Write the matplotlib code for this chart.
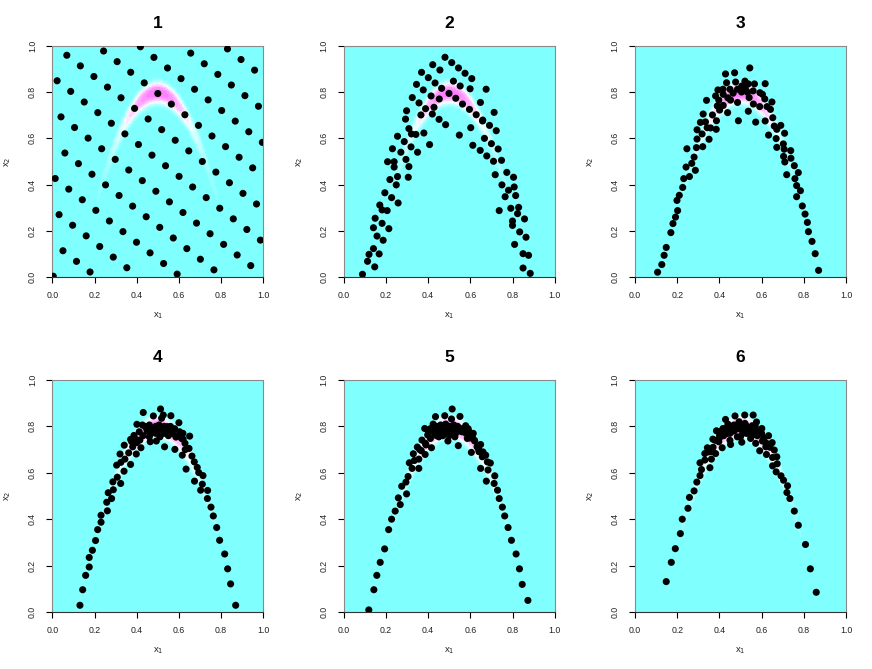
import numpy as np
import matplotlib
matplotlib.use("Agg")
import matplotlib.pyplot as plt
from matplotlib.colors import ListedColormap, BoundaryNorm

plt.rcParams['font.family'] = ['Liberation Sans', 'DejaVu Sans']

# ---------------- data ----------------
titles = ["1", "2", "3", "4", "5", "6"]
tick_vals = [0.0, 0.2, 0.4, 0.6, 0.8, 1.0]
tick_labels = ["0.0", "0.2", "0.4", "0.6", "0.8", "1.0"]

# panel 1: lattice point grid indices (out of 109 cells)
lattice_n = 109
lat_x = [0,7,14,21,28,35,42,49,56,63,70,77,84,91,98,105,
         3,10,17,24,31,38,45,52,59,66,73,80,87,94,101,108,
         6,13,20,27,34,41,48,55,62,69,76,83,90,97,104,
         2,9,16,23,30,37,44,51,58,65,72,79,86,93,100,107,
         5,12,19,26,33,40,47,54,61,68,75,82,89,96,103,
         1,8,15,22,29,36,43,50,57,64,71,78,85,92,99,106,
         4,11,18,25,32,39,46,53,60,67,74,81,88,95,102]
lat_y = [0,104,99,94,89,84,79,74,69,64,59,54,49,44,39,34,
         29,24,19,14,9,4,108,103,98,93,88,83,78,73,68,63,
         58,53,48,43,38,33,28,23,18,13,8,3,107,102,97,
         92,87,82,77,72,67,62,57,52,47,42,37,32,27,22,17,
         12,7,2,106,101,96,91,86,81,76,71,66,61,56,51,
         46,41,36,31,26,21,16,11,6,1,105,100,95,90,85,80,
         75,70,65,60,55,50,45,40,35,30,25,20,15,10,5]

pts2 = [(0.480,0.950),(0.512,0.927),(0.544,0.904),(0.575,0.881),(0.607,0.858),(0.422,0.918),(0.456,0.895),
        (0.369,0.885),(0.401,0.862),(0.433,0.839),(0.345,0.833),(0.377,0.809),(0.520,0.847),(0.552,0.826),
        (0.599,0.814),(0.675,0.812),(0.464,0.816),(0.499,0.794),(0.531,0.773),(0.563,0.748),(0.596,0.725),
        (0.628,0.702),(0.659,0.679),(0.691,0.656),(0.723,0.633),(0.325,0.776),(0.357,0.753),(0.388,0.728),
        (0.420,0.705),(0.452,0.682),(0.483,0.659),(0.414,0.783),(0.453,0.770),(0.428,0.734),(0.648,0.755),
        (0.713,0.712),(0.298,0.719),(0.293,0.683),(0.366,0.701),(0.309,0.642),(0.321,0.619),(0.342,0.617),
        (0.380,0.623),(0.255,0.609),(0.287,0.586),(0.319,0.563),(0.350,0.540),(0.407,0.573),(0.231,0.555),
        (0.271,0.540),(0.295,0.509),(0.309,0.478),(0.208,0.499),(0.239,0.499),(0.239,0.476),(0.306,0.432),
        (0.255,0.435),(0.219,0.422),(0.249,0.399),(0.195,0.365),(0.227,0.344),(0.258,0.321),(0.171,0.312),
        (0.182,0.291),(0.206,0.288),(0.149,0.255),(0.141,0.214),(0.182,0.233),(0.214,0.210),(0.158,0.178),
        (0.187,0.160),(0.141,0.124),(0.120,0.099),(0.168,0.101),(0.113,0.069),(0.147,0.045),(0.089,0.013),
        (0.602,0.646),(0.548,0.614),(0.612,0.570),(0.647,0.548),(0.678,0.524),(0.710,0.501),(0.667,0.600),
        (0.700,0.577),(0.732,0.554),(0.748,0.505),(0.658,0.675),(0.718,0.443),(0.773,0.453),(0.805,0.432),
        (0.750,0.399),(0.781,0.376),(0.808,0.390),(0.765,0.348),(0.815,0.353),(0.792,0.298),(0.829,0.302),
        (0.824,0.275),(0.737,0.288),(0.800,0.243),(0.800,0.224),(0.857,0.252),(0.834,0.196),(0.864,0.173),
        (0.810,0.142),(0.850,0.102),(0.876,0.095),(0.850,0.040),(0.884,0.017)]

pts3 = [(0.107,0.022),(0.127,0.055),(0.138,0.095),(0.148,0.129),(0.170,0.193),(0.180,0.232),(0.192,0.260),
        (0.202,0.288),(0.199,0.332),(0.210,0.354),(0.226,0.388),(0.231,0.426),(0.258,0.435),(0.242,0.476),
        (0.269,0.492),(0.280,0.519),(0.286,0.462),(0.246,0.555),(0.291,0.560),(0.321,0.564),(0.294,0.597),
        (0.318,0.619),(0.294,0.637),(0.310,0.669),(0.323,0.705),(0.334,0.671),(0.342,0.646),(0.358,0.645),
        (0.351,0.596),(0.385,0.639),(0.386,0.676),(0.367,0.701),(0.339,0.764),(0.382,0.783),(0.393,0.809),
        (0.417,0.812),(0.390,0.740),(0.401,0.722),(0.418,0.742),(0.397,0.765),(0.429,0.878),(0.472,0.883),
        (0.544,0.904),(0.434,0.840),(0.477,0.843),(0.506,0.826),(0.521,0.847),(0.537,0.835),(0.566,0.835),
        (0.617,0.836),(0.450,0.812),(0.486,0.812),(0.523,0.816),(0.533,0.799),(0.592,0.797),(0.604,0.790),
        (0.418,0.790),(0.453,0.765),(0.486,0.755),(0.439,0.711),(0.490,0.676),(0.541,0.776),(0.561,0.748),
        (0.537,0.717),(0.572,0.670),(0.591,0.737),(0.615,0.770),(0.649,0.757),(0.626,0.737),(0.642,0.725),
        (0.617,0.675),(0.653,0.689),(0.660,0.653),(0.691,0.656),(0.672,0.639),(0.633,0.614),(0.669,0.599),
        (0.709,0.622),(0.672,0.561),(0.703,0.576),(0.707,0.553),(0.738,0.547),(0.704,0.522),(0.739,0.514),
        (0.710,0.498),(0.755,0.482),(0.774,0.452),(0.719,0.443),(0.758,0.426),(0.766,0.396),(0.784,0.374),
        (0.766,0.348),(0.793,0.308),(0.806,0.273),(0.817,0.237),(0.822,0.197),(0.839,0.155),(0.854,0.102),
        (0.870,0.030),(0.465,0.795),(0.505,0.800),(0.560,0.805),(0.440,0.775)]

pts4 = [(0.131,0.029),(0.144,0.096),(0.158,0.158),(0.175,0.194),(0.175,0.235),(0.190,0.266),(0.205,0.308),
        (0.215,0.355),(0.231,0.387),(0.231,0.417),(0.261,0.436),(0.258,0.473),(0.281,0.489),(0.265,0.514),
        (0.289,0.527),(0.287,0.561),(0.308,0.581),(0.324,0.554),(0.305,0.633),(0.325,0.645),(0.340,0.607),
        (0.344,0.659),(0.321,0.681),(0.341,0.719),(0.362,0.686),(0.371,0.636),(0.381,0.712),(0.398,0.681),
        (0.376,0.734),(0.387,0.761),(0.371,0.744),(0.401,0.809),(0.412,0.777),(0.415,0.741),(0.420,0.708),
        (0.431,0.860),(0.427,0.806),(0.447,0.791),(0.460,0.806),(0.479,0.845),(0.468,0.770),(0.464,0.734),
        (0.490,0.770),(0.493,0.737),(0.513,0.875),(0.518,0.835),(0.526,0.849),(0.506,0.806),(0.529,0.770),
        (0.532,0.712),(0.545,0.799),(0.562,0.846),(0.566,0.784),(0.586,0.754),(0.600,0.816),(0.603,0.777),
        (0.581,0.701),(0.619,0.770),(0.613,0.748),(0.629,0.727),(0.651,0.758),(0.616,0.676),(0.648,0.705),
        (0.662,0.672),(0.673,0.647),(0.687,0.623),(0.634,0.616),(0.694,0.601),(0.714,0.588),(0.674,0.564),
        (0.711,0.551),(0.703,0.525),(0.736,0.524),(0.735,0.489),(0.752,0.452),(0.763,0.414),(0.779,0.364),
        (0.793,0.309),(0.817,0.250),(0.831,0.186),(0.845,0.121),(0.869,0.029),
        (0.440,0.800),(0.450,0.780),(0.470,0.790),(0.490,0.800),(0.500,0.780),(0.520,0.790),(0.540,0.780),
        (0.550,0.760),(0.570,0.770),(0.580,0.790),(0.430,0.760),(0.460,0.755),(0.510,0.755),(0.530,0.800),
        (0.560,0.800),(0.400,0.730),(0.390,0.750),(0.620,0.745),(0.600,0.760),(0.630,0.700)]

pts5 = [(0.119,0.009),(0.143,0.096),(0.157,0.158),(0.173,0.214),(0.194,0.272),(0.213,0.355),(0.227,0.400),
        (0.244,0.435),(0.268,0.463),(0.259,0.492),(0.298,0.509),(0.275,0.542),(0.295,0.560),(0.305,0.584),
        (0.324,0.619),(0.356,0.619),(0.311,0.643),(0.335,0.653),(0.356,0.659),(0.330,0.682),(0.349,0.711),
        (0.368,0.695),(0.386,0.679),(0.371,0.741),(0.387,0.727),(0.384,0.791),(0.398,0.763),(0.416,0.708),
        (0.411,0.748),(0.424,0.810),(0.435,0.842),(0.438,0.784),(0.451,0.755),(0.459,0.806),(0.475,0.777),
        (0.479,0.846),(0.483,0.810),(0.494,0.737),(0.503,0.791),(0.514,0.875),(0.511,0.832),(0.522,0.806),
        (0.527,0.755),(0.543,0.717),(0.551,0.843),(0.546,0.791),(0.562,0.777),(0.578,0.803),(0.586,0.748),
        (0.594,0.777),(0.605,0.688),(0.614,0.770),(0.621,0.737),(0.632,0.712),(0.649,0.722),(0.641,0.691),
        (0.657,0.669),(0.673,0.676),(0.649,0.619),(0.681,0.647),(0.695,0.642),(0.684,0.612),(0.676,0.564),
        (0.713,0.554),(0.716,0.587),(0.729,0.525),(0.737,0.489),(0.752,0.452),(0.763,0.414),(0.779,0.364),
        (0.795,0.309),(0.817,0.250),(0.833,0.186),(0.846,0.119),(0.873,0.050),
        (0.400,0.780),(0.410,0.790),(0.430,0.770),(0.440,0.800),(0.450,0.780),(0.460,0.790),(0.470,0.800),
        (0.480,0.790),(0.490,0.780),(0.500,0.800),(0.510,0.790),(0.520,0.780),(0.530,0.790),(0.540,0.800),
        (0.550,0.780),(0.560,0.790),(0.570,0.780),(0.580,0.770),(0.590,0.790),(0.600,0.750),(0.610,0.760),
        (0.620,0.740),(0.440,0.760),(0.470,0.760),(0.500,0.760),(0.530,0.770),(0.360,0.700),(0.390,0.720),
        (0.640,0.700),(0.660,0.690)]

pts6 = [(0.148,0.131),(0.172,0.214),(0.191,0.273),(0.215,0.338),(0.224,0.400),(0.251,0.447),(0.258,0.494),
        (0.280,0.522),(0.293,0.560),(0.308,0.588),(0.315,0.614),(0.308,0.643),(0.331,0.655),(0.355,0.622),
        (0.331,0.683),(0.362,0.659),(0.343,0.708),(0.366,0.691),(0.382,0.683),(0.369,0.745),(0.386,0.781),
        (0.397,0.734),(0.413,0.708),(0.401,0.763),(0.417,0.791),(0.429,0.830),(0.437,0.770),(0.453,0.722),
        (0.448,0.799),(0.461,0.781),(0.474,0.845),(0.469,0.806),(0.485,0.755),(0.493,0.820),(0.506,0.732),
        (0.506,0.791),(0.520,0.849),(0.521,0.813),(0.528,0.770),(0.541,0.788),(0.560,0.849),(0.556,0.803),
        (0.548,0.748),(0.576,0.819),(0.569,0.765),(0.588,0.780),(0.601,0.791),(0.572,0.727),(0.591,0.695),
        (0.604,0.737),(0.620,0.712),(0.633,0.760),(0.623,0.679),(0.639,0.719),(0.660,0.698),(0.652,0.666),
        (0.672,0.669),(0.652,0.630),(0.674,0.639),(0.669,0.604),(0.692,0.587),(0.704,0.568),(0.723,0.544),
        (0.720,0.515),(0.734,0.489),(0.755,0.435),(0.774,0.374),(0.808,0.291),(0.831,0.186),(0.859,0.085),
        (0.400,0.750),(0.410,0.780),(0.420,0.760),(0.430,0.790),(0.440,0.810),(0.450,0.770),(0.460,0.800),
        (0.470,0.780),(0.480,0.800),(0.490,0.790),(0.500,0.810),(0.510,0.770),(0.520,0.790),(0.530,0.800),
        (0.540,0.770),(0.550,0.790),(0.560,0.780),(0.570,0.800),(0.580,0.760),(0.590,0.780),(0.600,0.770),
        (0.610,0.750),(0.620,0.730),(0.630,0.720),(0.640,0.710),(0.650,0.730),(0.350,0.690),(0.370,0.710),
        (0.380,0.740),(0.450,0.740),(0.500,0.755)]

# density (background) shape parameters
ridge_top = 0.795
ridge_curv = 5.6
along_sd = 0.13
across_scale = 0.045
across_pow = 2.5

# R cm.colors(12)
cm_cols = ['#80FFFF', '#95FFFF', '#AAFFFF', '#BFFFFF', '#D5FFFF', '#EAFFFF',
           '#FFEAFF', '#FFD5FF', '#FFBFFF', '#FFAAFF', '#FF95FF', '#FF80FF']

# ---------------- figure ----------------
fig = plt.figure(figsize=(8.72, 6.69), dpi=100)

W, H = 872.0, 669.0
col_left = [52.3, 343.7, 635.0]
col_w = 211.0
row_top = [45.7, 380.0]
row_h = [231.6, 232.0]

g = np.linspace(0, 1, 301)
GX, GY = np.meshgrid(g, g)
dist = np.abs(GY - (ridge_top - ridge_curv * (GX - 0.5) ** 2))
dens = np.exp(-(GX - 0.5) ** 2 / (2 * along_sd ** 2)) * np.exp(-(dist / across_scale) ** across_pow)
cmap = ListedColormap(cm_cols)
norm = BoundaryNorm(np.linspace(0, dens.max(), 13), 12)

p1 = [((a + 0.5) / lattice_n, (b + 0.5) / lattice_n) for a, b in zip(lat_x, lat_y)]
panels = [p1, pts2, pts3, pts4, pts5, pts6]

for k in range(6):
    r, c = divmod(k, 3)
    left = col_left[c] / W
    bottom = 1 - (row_top[r] + row_h[r]) / H
    ax = fig.add_axes([left, bottom, col_w / W, row_h[r] / H])
    ax.imshow(dens, origin='lower', extent=[0, 1, 0, 1], cmap=cmap, norm=norm,
              aspect='auto', interpolation='nearest', zorder=0)
    xs = [p[0] for p in panels[k]]
    ys = [p[1] for p in panels[k]]
    ax.scatter(xs, ys, s=26, c='black', edgecolors='none', zorder=3)
    ax.set_xlim(0, 1)
    ax.set_ylim(0, 1)
    ax.set_xticks(tick_vals)
    ax.set_xticklabels(tick_labels)
    ax.set_yticks(tick_vals)
    ax.set_yticklabels(tick_labels, rotation=90, va='center')
    ax.tick_params(direction='out', length=4, width=0.8, color='black',
                   labelsize=6.3, labelcolor='#222222')
    ax.tick_params(axis='x', pad=6)
    ax.tick_params(axis='y', pad=7)
    for sp in ax.spines.values():
        sp.set_color('#8a8a8a')
        sp.set_linewidth(0.8)
    ax.spines['bottom'].set_color('#333333')
    ax.text(0.5, 1.098, titles[k], transform=ax.transAxes, ha='center', va='center',
            fontsize=12.5, fontweight='bold')
    ax.text(0.5, -0.168, r'x$_1$', transform=ax.transAxes, ha='center', va='center',
            fontsize=6.8, color='#222222')
    ax.text(-0.209, 0.5, r'x$_2$', transform=ax.transAxes, ha='center', va='center',
            fontsize=6.8, rotation=90, color='#222222')

fig.savefig('out.png', dpi=100)
